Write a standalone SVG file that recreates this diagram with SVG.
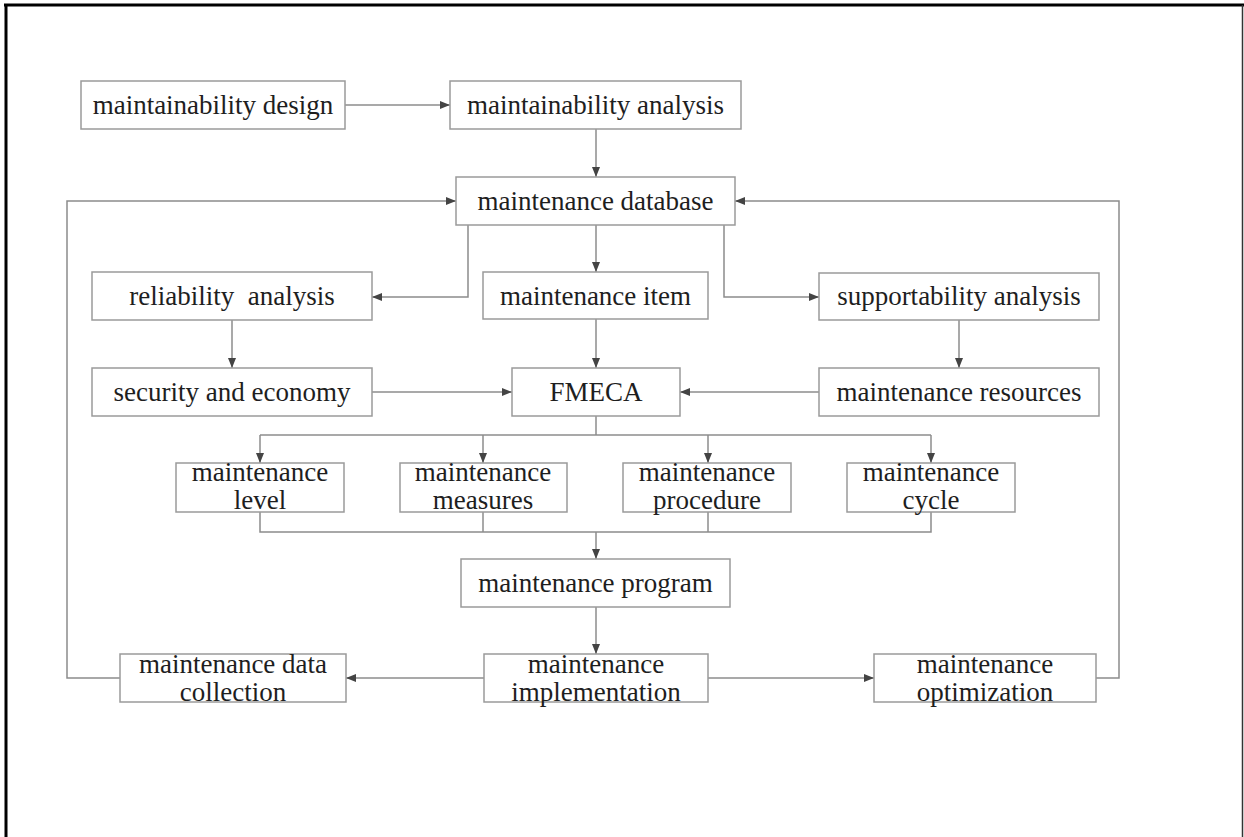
<svg xmlns="http://www.w3.org/2000/svg" width="1244" height="837" viewBox="0 0 1244 837">
<style>
.box{fill:#fff;stroke:#9a9a9a;stroke-width:1.5}
.t{font-family:"Liberation Serif","Times New Roman",serif;font-size:27px;fill:#1e1e1e;text-anchor:middle}
.c{fill:none;stroke:#8c8c8c;stroke-width:1.5}
</style>
<defs>
<marker id="ah" viewBox="0 0 10 10" refX="10" refY="5" markerWidth="10" markerHeight="10" markerUnits="userSpaceOnUse" orient="auto">
<path d="M0,1 L10,5 L0,9 Z" fill="#444"/>
</marker>
</defs>
<rect x="0" y="0" width="1244" height="837" fill="#fff"/>
<g id="frame">
<line x1="4" y1="5" x2="1244" y2="5" stroke="#000" stroke-width="3"/>
<line x1="6" y1="4" x2="6" y2="837" stroke="#000" stroke-width="3"/>
<line x1="1242.5" y1="5" x2="1242.5" y2="837" stroke="#333" stroke-width="1.5"/>
</g>
<g id="connectors">
<line class="c" x1="345" y1="105" x2="450" y2="105" marker-end="url(#ah)"/>
<line class="c" x1="596" y1="129" x2="596" y2="177" marker-end="url(#ah)"/>
<line class="c" x1="596" y1="225" x2="596" y2="272" marker-end="url(#ah)"/>
<polyline class="c" points="468,225 468,297 372,297" marker-end="url(#ah)"/>
<polyline class="c" points="724,225 724,297 819,297" marker-end="url(#ah)"/>
<line class="c" x1="232" y1="320" x2="232" y2="368" marker-end="url(#ah)"/>
<line class="c" x1="959" y1="320" x2="959" y2="368" marker-end="url(#ah)"/>
<line class="c" x1="596" y1="319" x2="596" y2="368" marker-end="url(#ah)"/>
<line class="c" x1="372" y1="392" x2="512" y2="392" marker-end="url(#ah)"/>
<line class="c" x1="819" y1="392" x2="680" y2="392" marker-end="url(#ah)"/>
<line class="c" x1="596" y1="416" x2="596" y2="435"/>
<line class="c" x1="260" y1="435" x2="931" y2="435"/>
<line class="c" x1="260" y1="435" x2="260" y2="463" marker-end="url(#ah)"/>
<line class="c" x1="483" y1="435" x2="483" y2="463" marker-end="url(#ah)"/>
<line class="c" x1="708" y1="435" x2="708" y2="463" marker-end="url(#ah)"/>
<line class="c" x1="931" y1="435" x2="931" y2="463" marker-end="url(#ah)"/>
<polyline class="c" points="260,512 260,532 931,532 931,512"/>
<line class="c" x1="483" y1="512" x2="483" y2="532"/>
<line class="c" x1="708" y1="512" x2="708" y2="532"/>
<line class="c" x1="596" y1="532" x2="596" y2="559" marker-end="url(#ah)"/>
<line class="c" x1="596" y1="607" x2="596" y2="654" marker-end="url(#ah)"/>
<line class="c" x1="484" y1="678" x2="346" y2="678" marker-end="url(#ah)"/>
<line class="c" x1="708" y1="678" x2="874" y2="678" marker-end="url(#ah)"/>
<polyline class="c" points="120,678 67,678 67,201 456,201" marker-end="url(#ah)"/>
<polyline class="c" points="1096,678 1119,678 1119,201 735,201" marker-end="url(#ah)"/>
</g>
<g id="n-design"><rect class="box" x="81" y="81" width="264" height="48"/><text class="t" x="213" y="114">maintainability design</text></g>
<g id="n-analysis"><rect class="box" x="450" y="81" width="291" height="48"/><text class="t" x="595.5" y="114">maintainability analysis</text></g>
<g id="n-database"><rect class="box" x="456" y="177" width="279" height="48"/><text class="t" x="595.5" y="210">maintenance database</text></g>
<g id="n-reliability"><rect class="box" x="92" y="272" width="280" height="48"/><text class="t" x="232" y="305" xml:space="preserve">reliability  analysis</text></g>
<g id="n-item"><rect class="box" x="483" y="272" width="225" height="47"/><text class="t" x="595.5" y="305">maintenance item</text></g>
<g id="n-supportability"><rect class="box" x="819" y="273" width="280" height="47"/><text class="t" x="959" y="305">supportability analysis</text></g>
<g id="n-security"><rect class="box" x="92" y="368" width="280" height="48"/><text class="t" x="232" y="401">security and economy</text></g>
<g id="n-fmeca"><rect class="box" x="512" y="368" width="168" height="48"/><text class="t" x="596" y="401">FMECA</text></g>
<g id="n-resources"><rect class="box" x="819" y="368" width="280" height="48"/><text class="t" x="959" y="401">maintenance resources</text></g>
<g id="n-level"><rect class="box" x="176" y="463" width="168" height="49"/><text class="t" x="260" y="481">maintenance</text><text class="t" x="260" y="509">level</text></g>
<g id="n-measures"><rect class="box" x="400" y="463" width="167" height="49"/><text class="t" x="483" y="481">maintenance</text><text class="t" x="483" y="509">measures</text></g>
<g id="n-procedure"><rect class="box" x="623" y="463" width="168" height="49"/><text class="t" x="707" y="481">maintenance</text><text class="t" x="707" y="509">procedure</text></g>
<g id="n-cycle"><rect class="box" x="847" y="463" width="168" height="49"/><text class="t" x="931" y="481">maintenance</text><text class="t" x="931" y="509">cycle</text></g>
<g id="n-program"><rect class="box" x="461" y="559" width="269" height="48"/><text class="t" x="595.5" y="592">maintenance program</text></g>
<g id="n-collection"><rect class="box" x="120" y="654" width="226" height="48"/><text class="t" x="233" y="673">maintenance data</text><text class="t" x="233" y="701">collection</text></g>
<g id="n-implementation"><rect class="box" x="484" y="654" width="224" height="48"/><text class="t" x="596" y="673">maintenance</text><text class="t" x="596" y="701">implementation</text></g>
<g id="n-optimization"><rect class="box" x="874" y="654" width="222" height="48"/><text class="t" x="985" y="673">maintenance</text><text class="t" x="985" y="701">optimization</text></g>
</svg>
